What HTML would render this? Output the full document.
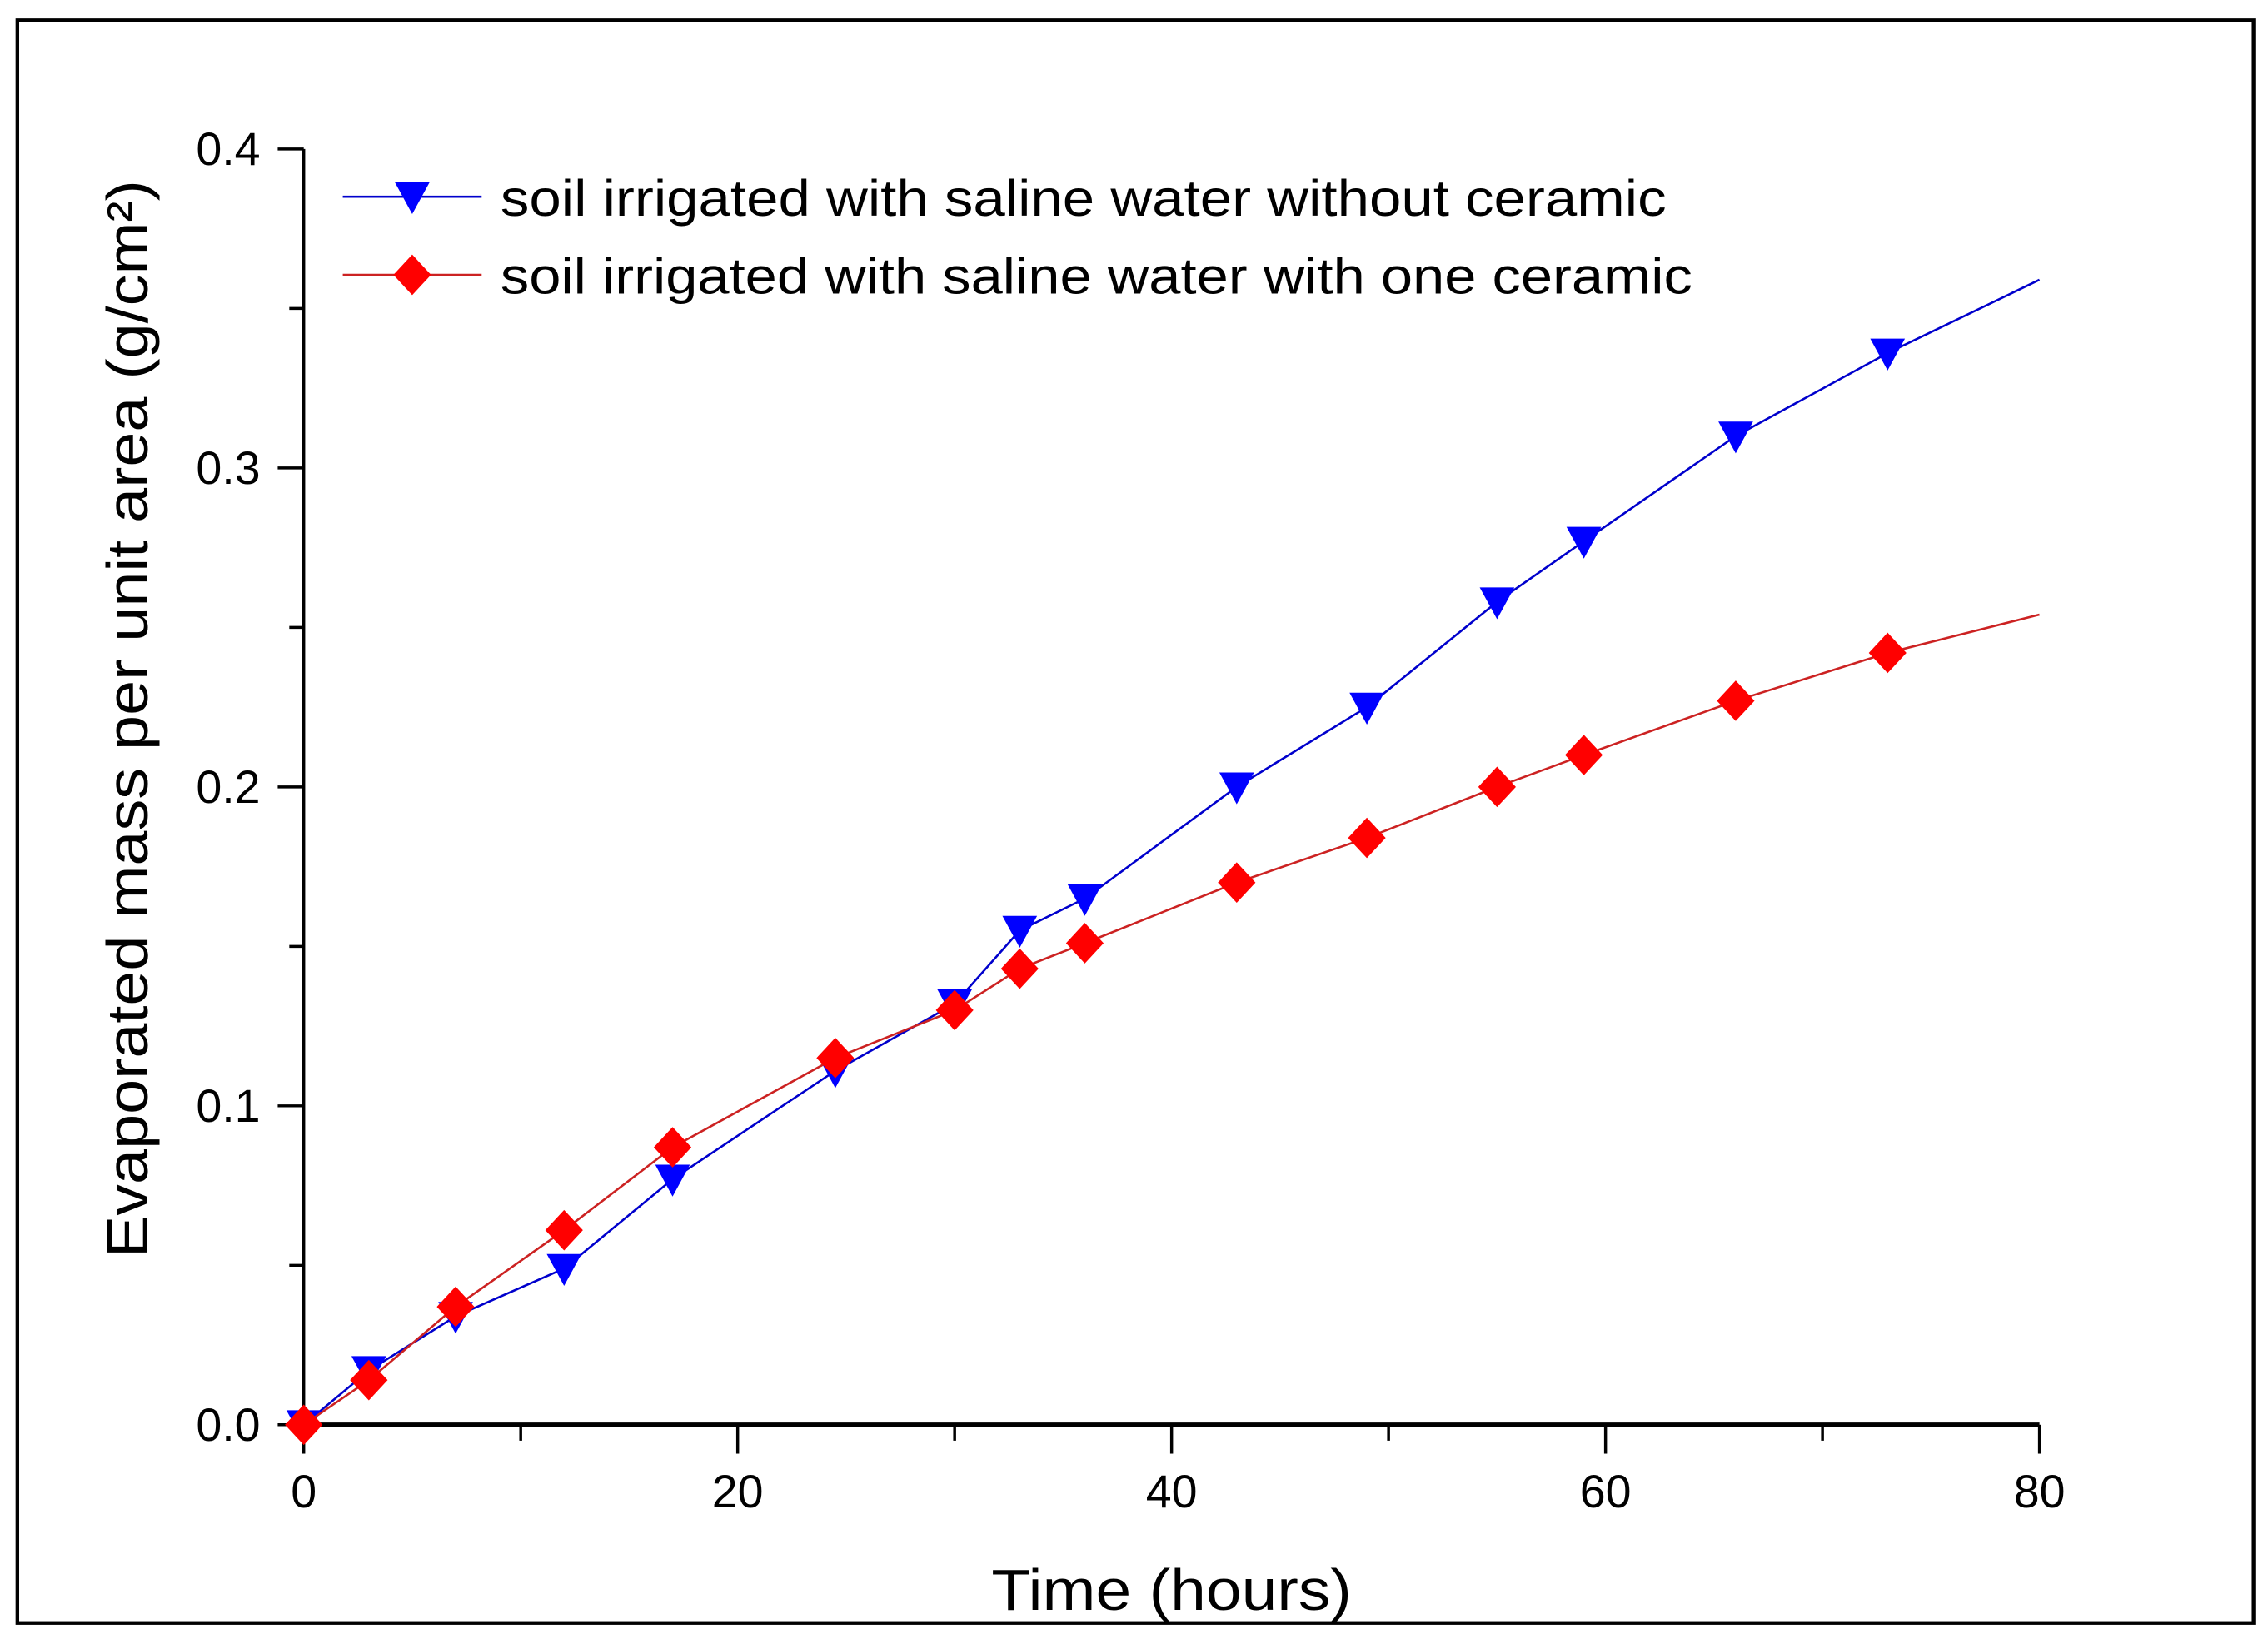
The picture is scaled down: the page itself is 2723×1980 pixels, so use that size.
<!DOCTYPE html>
<html><head><meta charset="utf-8"><style>
html,body{margin:0;padding:0;background:#fff;}
svg{display:block;}
text{font-family:"Liberation Sans",sans-serif;fill:#000;}
</style></head><body>
<svg id="chart" width="2723" height="1980" viewBox="0 0 1568 1140" preserveAspectRatio="none" xmlns="http://www.w3.org/2000/svg">
<rect x="12" y="14" width="1546" height="1108" fill="#fff" stroke="#000" stroke-width="2.5"/>
<g id="axes"></g>
<g id="series"></g>
<text x="810" y="1113" font-size="40" text-anchor="middle" textLength="249" lengthAdjust="spacingAndGlyphs">Time (hours)</text>
<text transform="translate(102,497) rotate(-90)" font-size="40" text-anchor="middle" textLength="745" lengthAdjust="spacingAndGlyphs">Evaporated mass per unit area (g/cm²)</text>
<g>
<line x1="237" y1="136" x2="333" y2="136" stroke="#0000cc" stroke-width="1.5"/>
<polygon points="273,126 297,126 285,148" fill="#0000ff"/>
<text x="346" y="149" font-size="35" textLength="806" lengthAdjust="spacingAndGlyphs">soil irrigated with saline water without ceramic</text>
<line x1="237" y1="190" x2="333" y2="190" stroke="#cc2222" stroke-width="1.5"/>
<polygon points="285,176 298,190 285,204 272,190" fill="#ff0000"/>
<text x="346" y="203" font-size="35" textLength="824" lengthAdjust="spacingAndGlyphs">soil irrigated with saline water with one ceramic</text>
</g>
</svg>
<script>
const hours = [0,3,7,12,17,24.5,30,33,36,43,49,55,59,66,73,80];
const withoutCeramic = [0,0.017,0.034,0.049,0.077,0.111,0.132,0.155,0.165,0.2,0.225,0.258,0.277,0.31,0.336,0.359];
const withCeramic = [0,0.014,0.037,0.061,0.087,0.115,0.13,0.143,0.151,0.17,0.184,0.2,0.21,0.227,0.242,0.254];
const xTicks = [0,20,40,60,80];
const xMinor = [10,30,50,70];
const yTicks = [0.0,0.1,0.2,0.3,0.4];
const yTickLabels = ["0.0","0.1","0.2","0.3","0.4"];
const yMinor = [0.05,0.15,0.25,0.35];

const NS="http://www.w3.org/2000/svg";
const X0=210,X1=1410,Y0=985,Y1=103;
function xs(v){return X0+(v-0)/(80-0)*(X1-X0);}
function ys(v){return Y0-(v-0)/(0.4-0)*(Y0-Y1);}
function mk(tag,attrs,parent){const e=document.createElementNS(NS,tag);for(const k in attrs)e.setAttribute(k,attrs[k]);parent.appendChild(e);return e;}
const axes=document.getElementById('axes');
let e=mk('line',{x1:X0,y1:Y0,x2:X1,y2:Y0,stroke:'#000','stroke-width':3},axes);


e=mk('line',{x1:X0,y1:Y0+1,x2:X0,y2:Y1,stroke:'#000','stroke-width':2},axes);


xTicks.forEach(v=>{
  const t=mk('line',{x1:xs(v),y1:Y0,x2:xs(v),y2:Y0+20,stroke:'#000','stroke-width':2},axes);
  
  
  const l=mk('text',{x:xs(v),y:Y0+57,'font-size':32,'text-anchor':'middle'},axes);
  l.textContent=String(v);
  
  
});
xMinor.forEach(v=>{
  const t=mk('line',{x1:xs(v),y1:Y0,x2:xs(v),y2:Y0+11,stroke:'#000','stroke-width':2},axes);
  
  
});
yTicks.forEach((v,i)=>{
  const t=mk('line',{x1:X0-18,y1:ys(v),x2:X0,y2:ys(v),stroke:'#000','stroke-width':2},axes);
  
  
  const l=mk('text',{x:X0-30,y:ys(v)+11,'font-size':32,'text-anchor':'end'},axes);
  l.textContent=yTickLabels[i];
  
  
});
yMinor.forEach(v=>{
  const t=mk('line',{x1:X0-10,y1:ys(v),x2:X0,y2:ys(v),stroke:'#000','stroke-width':2},axes);
  
  
});
const ser=document.getElementById('series');
function drawSeries(vals,color,fill,shape,name){
  const g=mk('g',{},ser);
  
  
  const pts=hours.map((h,i)=>xs(h)+','+ys(vals[i])).join(' ');
  const pl=mk('polyline',{points:pts,fill:'none',stroke:color,'stroke-width':1.5},g);
  
  
  hours.forEach((h,i)=>{
    if(i===hours.length-1)return;
    const x=xs(h),y=ys(vals[i]);
    let p;
    if(shape==='tri') p=`${x-12},${y-10} ${x+12},${y-10} ${x},${y+12}`;
    else p=`${x},${y-14} ${x+13},${y} ${x},${y+14} ${x-13},${y}`;
    const m=mk('polygon',{points:p,fill:fill},g);
    
    
  });
}
drawSeries(withoutCeramic,'#0000cc','#0000ff','tri','series-without-ceramic');
drawSeries(withCeramic,'#cc2222','#ff0000','dia','series-with-one-ceramic');
</script>
</body></html>
